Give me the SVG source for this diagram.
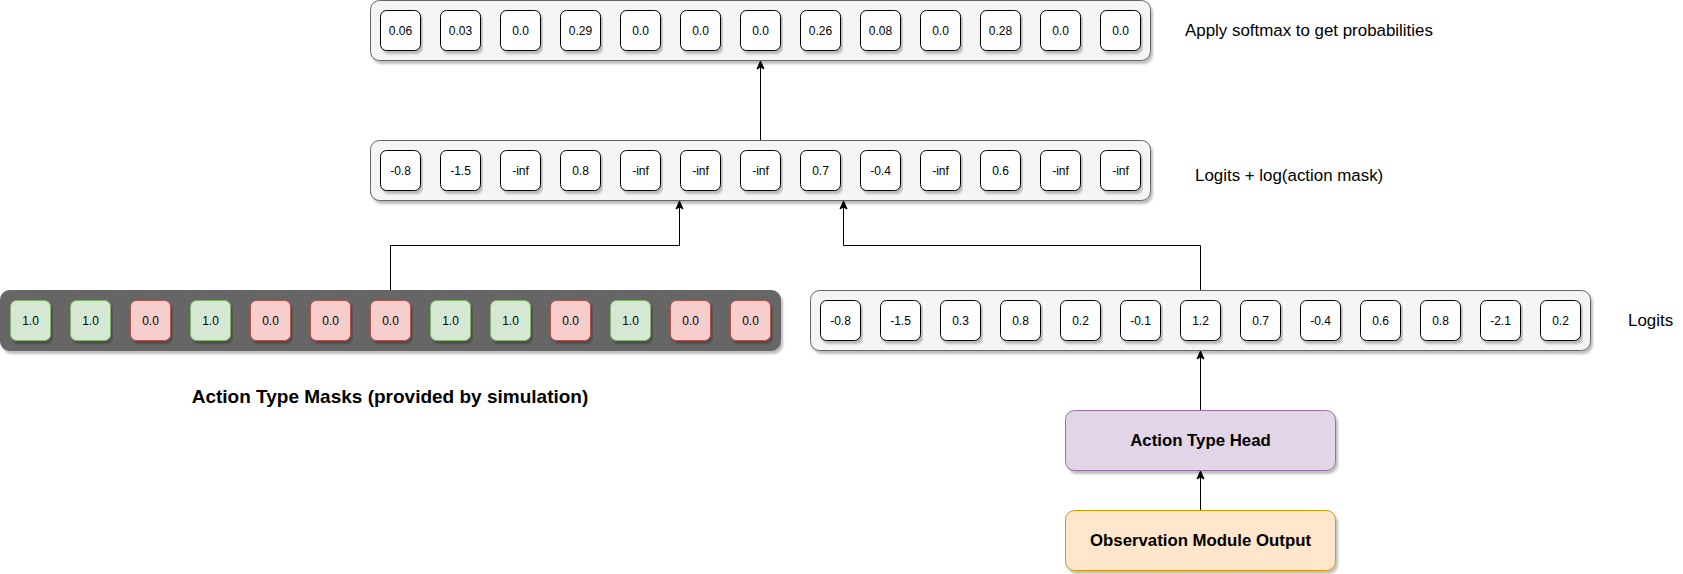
<svg xmlns="http://www.w3.org/2000/svg" width="1683" height="574" viewBox="0 0 1683 574">
<defs>
<filter id="sh" x="-5%" y="-20%" width="110%" height="150%">
<feDropShadow dx="2" dy="3" stdDeviation="1" flood-color="#000" flood-opacity="0.25"/>
</filter>
<marker id="arr" markerUnits="userSpaceOnUse" markerWidth="10" markerHeight="10" viewBox="0 0 10 10" refX="9" refY="5" orient="auto">
<path d="M1,1.5 L9,5 L1,8.5 L3,5 Z" fill="#000" stroke="#000" stroke-width="1"/>
</marker>
</defs>
<style>
text{font-family:"Liberation Sans",Arial,sans-serif;fill:#000}
.ct{font-size:12px;text-anchor:middle;dominant-baseline:central}
.cont{fill:#f5f5f5;stroke:#666666;stroke-width:1;filter:url(#sh)}
.dark{fill:#666666;stroke:#666666;stroke-width:1;filter:url(#sh)}
.cell{fill:#ffffff;stroke:#000000;stroke-width:1;filter:url(#sh)}
.g{fill:#d5e8d4;stroke:#82b366;stroke-width:1;filter:url(#sh)}
.r{fill:#f8cecc;stroke:#b85450;stroke-width:1;filter:url(#sh)}
.lbl{font-size:16.9px;dominant-baseline:central}
.bold{font-weight:bold;text-anchor:middle;dominant-baseline:central}
.conn{fill:none;stroke:#000;stroke-width:1;marker-end:url(#arr)}
</style>

<g id="probs">
<rect class="cont" x="370.5" y="0.5" width="780" height="60" rx="9"/>
<g transform="translate(380.5,10.5)"><rect class="cell" width="40" height="40" rx="6"/><text class="ct" x="20" y="20">0.06</text></g>
<g transform="translate(440.5,10.5)"><rect class="cell" width="40" height="40" rx="6"/><text class="ct" x="20" y="20">0.03</text></g>
<g transform="translate(500.5,10.5)"><rect class="cell" width="40" height="40" rx="6"/><text class="ct" x="20" y="20">0.0</text></g>
<g transform="translate(560.5,10.5)"><rect class="cell" width="40" height="40" rx="6"/><text class="ct" x="20" y="20">0.29</text></g>
<g transform="translate(620.5,10.5)"><rect class="cell" width="40" height="40" rx="6"/><text class="ct" x="20" y="20">0.0</text></g>
<g transform="translate(680.5,10.5)"><rect class="cell" width="40" height="40" rx="6"/><text class="ct" x="20" y="20">0.0</text></g>
<g transform="translate(740.5,10.5)"><rect class="cell" width="40" height="40" rx="6"/><text class="ct" x="20" y="20">0.0</text></g>
<g transform="translate(800.5,10.5)"><rect class="cell" width="40" height="40" rx="6"/><text class="ct" x="20" y="20">0.26</text></g>
<g transform="translate(860.5,10.5)"><rect class="cell" width="40" height="40" rx="6"/><text class="ct" x="20" y="20">0.08</text></g>
<g transform="translate(920.5,10.5)"><rect class="cell" width="40" height="40" rx="6"/><text class="ct" x="20" y="20">0.0</text></g>
<g transform="translate(980.5,10.5)"><rect class="cell" width="40" height="40" rx="6"/><text class="ct" x="20" y="20">0.28</text></g>
<g transform="translate(1040.5,10.5)"><rect class="cell" width="40" height="40" rx="6"/><text class="ct" x="20" y="20">0.0</text></g>
<g transform="translate(1100.5,10.5)"><rect class="cell" width="40" height="40" rx="6"/><text class="ct" x="20" y="20">0.0</text></g>
</g>
<g id="label-softmax"><text class="lbl" x="1185" y="30">Apply softmax to get probabilities</text></g>

<g id="masked">
<rect class="cont" x="370.5" y="140.5" width="780" height="60" rx="9"/>
<g transform="translate(380.5,150.5)"><rect class="cell" width="40" height="40" rx="6"/><text class="ct" x="20" y="20">-0.8</text></g>
<g transform="translate(440.5,150.5)"><rect class="cell" width="40" height="40" rx="6"/><text class="ct" x="20" y="20">-1.5</text></g>
<g transform="translate(500.5,150.5)"><rect class="cell" width="40" height="40" rx="6"/><text class="ct" x="20" y="20">-inf</text></g>
<g transform="translate(560.5,150.5)"><rect class="cell" width="40" height="40" rx="6"/><text class="ct" x="20" y="20">0.8</text></g>
<g transform="translate(620.5,150.5)"><rect class="cell" width="40" height="40" rx="6"/><text class="ct" x="20" y="20">-inf</text></g>
<g transform="translate(680.5,150.5)"><rect class="cell" width="40" height="40" rx="6"/><text class="ct" x="20" y="20">-inf</text></g>
<g transform="translate(740.5,150.5)"><rect class="cell" width="40" height="40" rx="6"/><text class="ct" x="20" y="20">-inf</text></g>
<g transform="translate(800.5,150.5)"><rect class="cell" width="40" height="40" rx="6"/><text class="ct" x="20" y="20">0.7</text></g>
<g transform="translate(860.5,150.5)"><rect class="cell" width="40" height="40" rx="6"/><text class="ct" x="20" y="20">-0.4</text></g>
<g transform="translate(920.5,150.5)"><rect class="cell" width="40" height="40" rx="6"/><text class="ct" x="20" y="20">-inf</text></g>
<g transform="translate(980.5,150.5)"><rect class="cell" width="40" height="40" rx="6"/><text class="ct" x="20" y="20">0.6</text></g>
<g transform="translate(1040.5,150.5)"><rect class="cell" width="40" height="40" rx="6"/><text class="ct" x="20" y="20">-inf</text></g>
<g transform="translate(1100.5,150.5)"><rect class="cell" width="40" height="40" rx="6"/><text class="ct" x="20" y="20">-inf</text></g>
</g>
<g id="label-masked"><text class="lbl" x="1195" y="175">Logits + log(action mask)</text></g>

<g id="masks">
<rect class="dark" x="0.5" y="290.5" width="780" height="60" rx="9"/>
<g transform="translate(10.5,300.5)"><rect class="g" width="40" height="40" rx="6"/><text class="ct" x="20" y="20">1.0</text></g>
<g transform="translate(70.5,300.5)"><rect class="g" width="40" height="40" rx="6"/><text class="ct" x="20" y="20">1.0</text></g>
<g transform="translate(130.5,300.5)"><rect class="r" width="40" height="40" rx="6"/><text class="ct" x="20" y="20">0.0</text></g>
<g transform="translate(190.5,300.5)"><rect class="g" width="40" height="40" rx="6"/><text class="ct" x="20" y="20">1.0</text></g>
<g transform="translate(250.5,300.5)"><rect class="r" width="40" height="40" rx="6"/><text class="ct" x="20" y="20">0.0</text></g>
<g transform="translate(310.5,300.5)"><rect class="r" width="40" height="40" rx="6"/><text class="ct" x="20" y="20">0.0</text></g>
<g transform="translate(370.5,300.5)"><rect class="r" width="40" height="40" rx="6"/><text class="ct" x="20" y="20">0.0</text></g>
<g transform="translate(430.5,300.5)"><rect class="g" width="40" height="40" rx="6"/><text class="ct" x="20" y="20">1.0</text></g>
<g transform="translate(490.5,300.5)"><rect class="g" width="40" height="40" rx="6"/><text class="ct" x="20" y="20">1.0</text></g>
<g transform="translate(550.5,300.5)"><rect class="r" width="40" height="40" rx="6"/><text class="ct" x="20" y="20">0.0</text></g>
<g transform="translate(610.5,300.5)"><rect class="g" width="40" height="40" rx="6"/><text class="ct" x="20" y="20">1.0</text></g>
<g transform="translate(670.5,300.5)"><rect class="r" width="40" height="40" rx="6"/><text class="ct" x="20" y="20">0.0</text></g>
<g transform="translate(730.5,300.5)"><rect class="r" width="40" height="40" rx="6"/><text class="ct" x="20" y="20">0.0</text></g>
</g>
<g id="label-masks"><text class="bold" x="390" y="396" style="font-size:19px">Action Type Masks (provided by simulation)</text></g>

<g id="logits">
<rect class="cont" x="810.5" y="290.5" width="780" height="60" rx="9"/>
<g transform="translate(820.5,300.5)"><rect class="cell" width="40" height="40" rx="6"/><text class="ct" x="20" y="20">-0.8</text></g>
<g transform="translate(880.5,300.5)"><rect class="cell" width="40" height="40" rx="6"/><text class="ct" x="20" y="20">-1.5</text></g>
<g transform="translate(940.5,300.5)"><rect class="cell" width="40" height="40" rx="6"/><text class="ct" x="20" y="20">0.3</text></g>
<g transform="translate(1000.5,300.5)"><rect class="cell" width="40" height="40" rx="6"/><text class="ct" x="20" y="20">0.8</text></g>
<g transform="translate(1060.5,300.5)"><rect class="cell" width="40" height="40" rx="6"/><text class="ct" x="20" y="20">0.2</text></g>
<g transform="translate(1120.5,300.5)"><rect class="cell" width="40" height="40" rx="6"/><text class="ct" x="20" y="20">-0.1</text></g>
<g transform="translate(1180.5,300.5)"><rect class="cell" width="40" height="40" rx="6"/><text class="ct" x="20" y="20">1.2</text></g>
<g transform="translate(1240.5,300.5)"><rect class="cell" width="40" height="40" rx="6"/><text class="ct" x="20" y="20">0.7</text></g>
<g transform="translate(1300.5,300.5)"><rect class="cell" width="40" height="40" rx="6"/><text class="ct" x="20" y="20">-0.4</text></g>
<g transform="translate(1360.5,300.5)"><rect class="cell" width="40" height="40" rx="6"/><text class="ct" x="20" y="20">0.6</text></g>
<g transform="translate(1420.5,300.5)"><rect class="cell" width="40" height="40" rx="6"/><text class="ct" x="20" y="20">0.8</text></g>
<g transform="translate(1480.5,300.5)"><rect class="cell" width="40" height="40" rx="6"/><text class="ct" x="20" y="20">-2.1</text></g>
<g transform="translate(1540.5,300.5)"><rect class="cell" width="40" height="40" rx="6"/><text class="ct" x="20" y="20">0.2</text></g>
</g>
<g id="label-logits"><text class="lbl" x="1628" y="320">Logits</text></g>

<g id="head">
<rect x="1065.5" y="410.5" width="270" height="60" rx="9" fill="#e1d5e7" stroke="#9673a6" filter="url(#sh)"/>
<text class="bold" x="1200.5" y="440.5" style="font-size:16.8px">Action Type Head</text>
</g>
<g id="obs">
<rect x="1065.5" y="510.5" width="270" height="60" rx="9" fill="#ffe6cc" stroke="#d79b00" filter="url(#sh)"/>
<text class="bold" x="1200.5" y="540.5" style="font-size:16.8px">Observation Module Output</text>
</g>

<g id="connectors">
<path class="conn" d="M760.5,140 V61"/>
<path class="conn" d="M390.5,290 V245.5 H679.5 V201"/>
<path class="conn" d="M1200.5,290 V245.5 H843.5 V201"/>
<path class="conn" d="M1200.5,410 V351"/>
<path class="conn" d="M1200.5,510 V471"/>
</g>
</svg>
